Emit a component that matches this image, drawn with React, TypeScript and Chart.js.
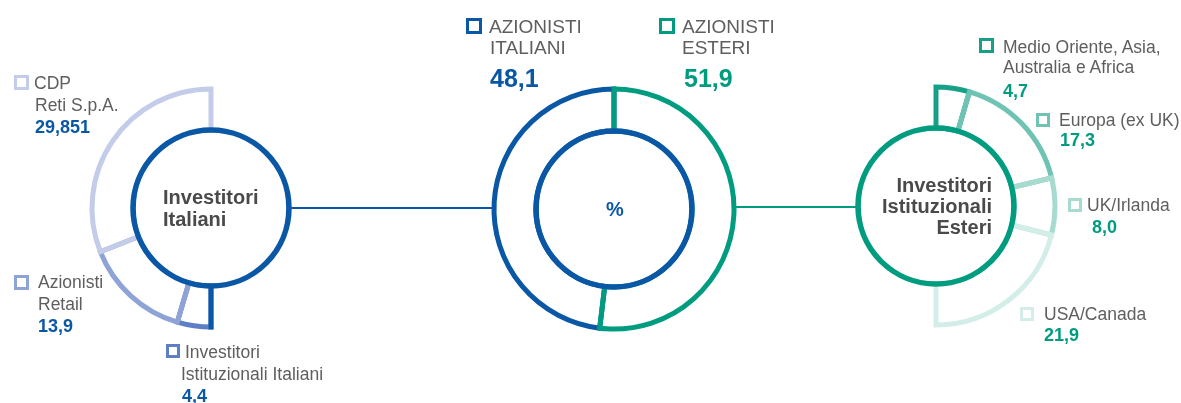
import React, { useEffect, useRef } from "react";
import { Chart, registerables } from "chart.js";

Chart.register(...registerables);

// ---------- DATA ----------
const italianLabels = ["Investitori Istituzionali Italiani", "Azionisti Retail", "CDP Reti S.p.A."];
const italianValues = [4.4, 13.9, 29.851];

const foreignLabels = ["Medio Oriente, Asia, Australia e Africa", "Europa (ex UK)", "UK/Irlanda", "USA/Canada"];
const foreignValues = [4.7, 17.3, 8.0, 21.9];

const totalLabels = ["Azionisti Italiani", "Azionisti Esteri"];
const totalValues = [48.1, 51.9];

// ---------- STYLE ----------
const BLUE = "#0a58a5";
const TEAL = "#009c80";
const italianColors = ["#5e7ec6", "#8ea3d6", "#c3cdea"];
const foreignColors = ["#17a087", "#6fc3b3", "#a8dbd0", "#d3eee8"];
const GREY = "#5e5e5e";
const DARKGREY = "#4a4a4a";
const FONT = "'Liberation Sans', Arial, Helvetica, sans-serif";
const SEG_W = 5;
const CIRCLE_W = 5.5;

const fmt = (v: number) => {
  const s = String(v);
  return (s.includes(".") ? s : v.toFixed(1)).replace(".", ",");
};
const sum = (a: number[]) => a.reduce((p, c) => p + c, 0);

const startLinePlugin = {
  id: "startLine",
  afterDatasetsDraw(chart: any, _args: any, opts: any) {
    if (!opts || !opts.color) return;
    const meta = chart.getDatasetMeta(0);
    const el = meta.data[0];
    if (!el) return;
    const { x, y, startAngle, innerRadius, outerRadius } = el.getProps(
      ["x", "y", "startAngle", "innerRadius", "outerRadius"],
      true
    );
    const w = opts.width || SEG_W;
    const ctx = chart.ctx;
    ctx.save();
    ctx.strokeStyle = opts.color;
    ctx.lineWidth = w;
    ctx.beginPath();
    ctx.moveTo(x + Math.cos(startAngle) * innerRadius, y + Math.sin(startAngle) * innerRadius);
    const r2 = outerRadius + w / 2;
    ctx.lineTo(x + Math.cos(startAngle) * r2, y + Math.sin(startAngle) * r2);
    ctx.stroke();
    ctx.restore();
  },
};

type RingProps = {
  left: number;
  top: number;
  labels: string[];
  values: number[];
  colors: string[];
  rotation: number;
  circumference: number;
  radius: number;
  inner: number;
  circleColor: string;
  startLine?: string;
};

const SIZE = 260;

function Ring(p: RingProps) {
  const ref = useRef<HTMLCanvasElement | null>(null);
  useEffect(() => {
    if (!ref.current) return;
    const ringW = p.radius - p.inner;
    const chart = new Chart(ref.current, {
      type: "doughnut",
      data: {
        labels: p.labels,
        datasets: [
          {
            data: p.values,
            backgroundColor: "rgba(0,0,0,0)",
            borderColor: p.colors,
            borderWidth: SEG_W,
            borderJoinStyle: "miter",
            borderAlign: "center",
            rotation: p.rotation,
            circumference: p.circumference,
            weight: ringW,
            order: 1,
          } as any,
          {
            data: [sum(p.values)],
            backgroundColor: "rgba(0,0,0,0)",
            borderColor: p.circleColor,
            borderWidth: CIRCLE_W,
            borderAlign: "center",
            rotation: 0,
            circumference: 360,
            weight: 0.1,
            order: 0,
          } as any,
        ],
      },
      options: {
        responsive: false,
        maintainAspectRatio: false,
        animation: false,
        events: [],
        radius: p.radius,
        cutout: ((p.inner - 0.1) / p.radius) * 100 + "%",
        layout: { padding: 0 },
        plugins: {
          legend: { display: false },
          tooltip: { enabled: false },
          startLine: { color: p.startLine, width: SEG_W },
        } as any,
      } as any,
      plugins: [startLinePlugin],
    });
    return () => chart.destroy();
  }, []);
  return (
    <canvas
      ref={ref}
      width={SIZE}
      height={SIZE}
      style={{ position: "absolute", left: p.left, top: p.top, width: SIZE, height: SIZE }}
    />
  );
}

function T(props: { x: number; cy: number; text: string; size?: number; bold?: boolean; color?: string; lh?: number; align?: "left" | "right"; }) {
  const size = props.size ?? 17.5;
  const lh = props.lh ?? 22;
  const style: any = {
    position: "absolute",
    top: props.cy - lh / 2,
    fontFamily: FONT,
    fontSize: size,
    lineHeight: lh + "px",
    fontWeight: props.bold ? 700 : 400,
    color: props.color ?? GREY,
    whiteSpace: "nowrap",
  };
  if (props.align === "right") style.right = 1181 - props.x;
  else style.left = props.x;
  return <div style={style}>{props.text}</div>;
}

function Box(props: { x: number; y: number; s: number; color: string; bw?: number }) {
  return (
    <div
      style={{
        position: "absolute",
        left: props.x,
        top: props.y,
        width: props.s,
        height: props.s,
        boxSizing: "border-box",
        border: `${props.bw ?? 3}px solid ${props.color}`,
      }}
    />
  );
}

export default function App() {
  const L = { cx: 211, cy: 208 };
  const M = { cx: 614, cy: 209 };
  const R = { cx: 936, cy: 206 };
  const midRotation = -(totalValues[0] / sum(totalValues)) * 360;
  return (
    <div style={{ position: "absolute", left: 0, top: 0, width: 1181, height: 403, overflow: "hidden", background: "#fff" }}>
      {/* connectors */}
      <div style={{ position: "absolute", left: L.cx + 78, top: 207, width: M.cx - 120 - (L.cx + 78), height: 2, background: BLUE }} />
      <div style={{ position: "absolute", left: M.cx + 120, top: 206, width: R.cx - 78 - (M.cx + 120), height: 2, background: TEAL }} />

      <Ring left={L.cx - SIZE / 2} top={L.cy - SIZE / 2} labels={italianLabels} values={italianValues} colors={italianColors}
        rotation={180} circumference={180} radius={119} inner={78} circleColor={BLUE} startLine={BLUE} />
      <Ring left={M.cx - SIZE / 2} top={M.cy - SIZE / 2} labels={totalLabels} values={totalValues} colors={[BLUE, TEAL]}
        rotation={midRotation} circumference={360} radius={120} inner={78} circleColor={BLUE} />
      <Ring left={R.cx - SIZE / 2} top={R.cy - SIZE / 2} labels={foreignLabels} values={foreignValues} colors={foreignColors}
        rotation={0} circumference={180} radius={119} inner={78} circleColor={TEAL} />

      {/* center titles */}
      <T x={163} cy={197} text="Investitori" size={20} bold color={DARKGREY} />
      <T x={163} cy={219} text="Italiani" size={20} bold color={DARKGREY} />
      <T x={992} cy={185} text="Investitori" size={20} bold color={DARKGREY} align="right" />
      <T x={992} cy={206} text="Istituzionali" size={20} bold color={DARKGREY} align="right" />
      <T x={992} cy={227} text="Esteri" size={20} bold color={DARKGREY} align="right" />
      <T x={606} cy={209} text="%" size={20} bold color={BLUE} />

      {/* left legend */}
      <Box x={14} y={75} s={15} color={italianColors[2]} />
      <T x={34} cy={83} text="CDP" />
      <T x={35} cy={105} text="Reti S.p.A." />
      <T x={35} cy={126.5} text={fmt(italianValues[2])} size={18} bold color={BLUE} />

      <Box x={14} y={275} s={15} color={italianColors[1]} />
      <T x={38} cy={282} text="Azionisti" />
      <T x={38} cy={303.5} text="Retail" />
      <T x={38} cy={326} text={fmt(italianValues[1])} size={18} bold color={BLUE} />

      <Box x={166} y={344} s={14} color={italianColors[0]} />
      <T x={185} cy={351.5} text="Investitori" />
      <T x={181} cy={373.5} text="Istituzionali Italiani" />
      <T x={182} cy={396} text={fmt(italianValues[0])} size={18} bold color={BLUE} />

      {/* middle legend */}
      <Box x={466} y={18} s={16} color={BLUE} bw={3.5} />
      <T x={489} cy={26.5} text="AZIONISTI" size={19} />
      <T x={490} cy={47.5} text="ITALIANI" size={19} />
      <T x={490} cy={77.5} text={fmt(totalValues[0])} size={25} bold color={BLUE} lh={30} />

      <Box x={659} y={18} s={16} color={TEAL} bw={3.5} />
      <T x={682} cy={26.5} text="AZIONISTI" size={19} />
      <T x={682} cy={47.5} text="ESTERI" size={19} />
      <T x={684} cy={77.5} text={fmt(totalValues[1])} size={25} bold color={TEAL} lh={30} />

      {/* right legend */}
      <Box x={979} y={38} s={15} color={foreignColors[0]} />
      <T x={1003} cy={46.5} text="Medio Oriente, Asia," />
      <T x={1003} cy={67} text="Australia e Africa" />
      <T x={1003} cy={91} text={fmt(foreignValues[0])} size={18} bold color={TEAL} />

      <Box x={1036} y={113} s={14} color={foreignColors[1]} />
      <T x={1059} cy={120} text="Europa (ex UK)" />
      <T x={1060} cy={139.5} text={fmt(foreignValues[1])} size={18} bold color={TEAL} />

      <Box x={1068} y={198} s={14} color={foreignColors[2]} />
      <T x={1087} cy={205} text="UK/Irlanda" />
      <T x={1092} cy={226.5} text={fmt(foreignValues[2])} size={18} bold color={TEAL} />

      <Box x={1020} y={307} s={14} color={foreignColors[3]} />
      <T x={1044} cy={313.5} text="USA/Canada" />
      <T x={1044} cy={335} text={fmt(foreignValues[3])} size={18} bold color={TEAL} />
    </div>
  );
}
